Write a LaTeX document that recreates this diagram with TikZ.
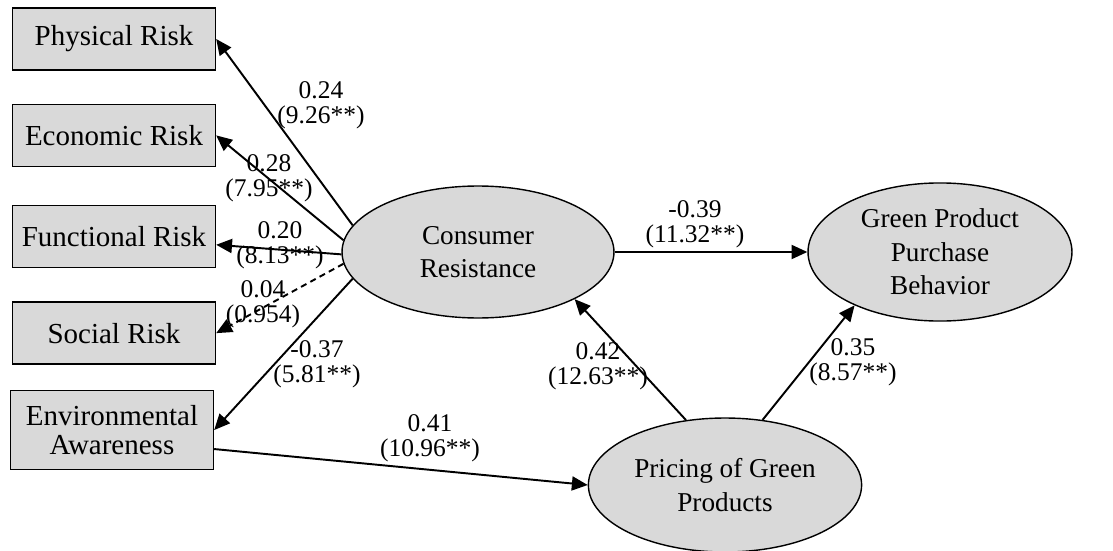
\documentclass[tikz,border=0pt]{standalone}
\usepackage{fontspec}
\setmainfont{Liberation Serif}
\usetikzlibrary{positioning,shapes.geometric,arrows.meta}
\definecolor{boxgray}{RGB}{217,217,217}

\begin{document}
\begin{tikzpicture}[x=0.02cm, y=-0.02cm,
    risk/.style={draw, rectangle, minimum width=4.06cm, minimum height=1.24cm, align=center, thick, fill=boxgray, font=\fontsize{16.5}{16.5}\selectfont},
    construct/.style={draw, ellipse, align=center, thick, fill=boxgray, font=\fontsize{15.5}{19}\selectfont},
    coef/.style={align=center, inner sep=0pt, font=\fontsize{14.5}{14.5}\selectfont},
    line/.style={draw, -{Triangle[length=9pt,width=8pt]}, line width=1.1pt}
]
    \useasboundingbox (0,0) rectangle (1113,551);

    % Nodes
    \node[risk] (pr) at (114,39) {Physical Risk};
    \node[risk, below=0.66cm of pr] (er) {Economic Risk};
    \node[risk, below=0.76cm of er] (fr) {Functional Risk};
    \node[risk, below=0.66cm of fr] (sr) {Social Risk};
    \node[risk, minimum height=1.58cm, below=0.5cm of sr, xshift=-0.04cm] (ea) {Environmental\\Awareness};
    \node[construct, minimum width=5.44cm, minimum height=2.64cm] (cr) at (478,252) {Consumer\\Resistance};
    \node[construct, minimum width=5.28cm, minimum height=2.7cm] (gp) at (940,252) {Green Product\\Purchase\\Behavior};
    \node[construct, minimum width=5.12cm, minimum height=2.68cm] (pg) at (725,485) {Pricing of Green\\Products};

    % Connections
    \draw[line] (cr.168) -- (pr.east);
    \draw[line] (cr.175) -- (er.east);
    \draw[line] (cr.181) -- ([yshift=-0.16cm]fr.east);
    \draw[line, dash pattern=on 3.5pt off 2.5pt] (cr.185) -- (sr.east);
    \draw[line] (cr.192) -- (ea.east);
    \draw[line] (cr.east) -- (gp.west);
    \draw[line] (pg.121) -- (cr.-26);
    \draw[line] (pg.60) -- (gp.212);
    \draw[line] ([yshift=-0.38cm]ea.east) -- (pg.west);

    % Coefficients
    \node[coef] (c1) at (321,105) {0.24\\(9.26**)};
    \node[coef] (c2) at (269,178) {0.28\\(7.95**)};
    \node[coef] (c3) at (280,245) {0.20\\(8.13**)};
    \node[coef] (c4) at (263,304) {0.04\\(0.954)};
    \node[coef] (c5) at (317,364) {-0.37\\(5.81**)};
    \node[coef] (c6) at (430,438) {0.41\\(10.96**)};
    \node[coef] (c7) at (695,224) {-0.39\\(11.32**)};
    \node[coef] (c8) at (598,366) {0.42\\(12.63**)};
    \node[coef] (c9) at (853,362) {0.35\\(8.57**)};
\end{tikzpicture}
\end{document}
